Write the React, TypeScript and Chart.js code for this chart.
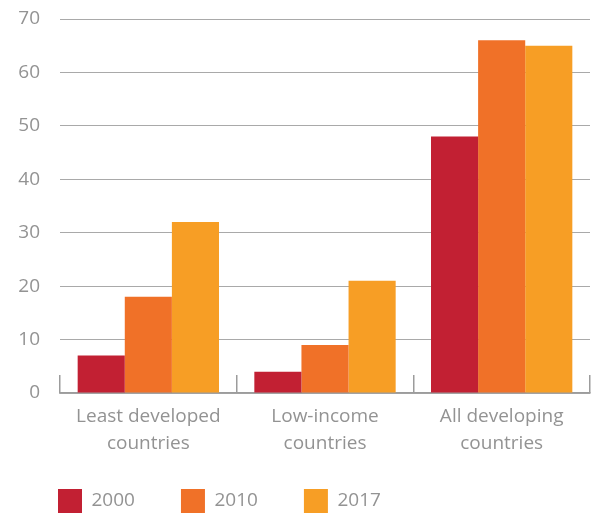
import React, { useEffect, useRef } from "react";
import { Chart, registerables } from "chart.js";

Chart.register(...registerables);

const categories: string[][] = [
  ["Least developed", "countries"],
  ["Low-income", "countries"],
  ["All developing", "countries"],
];
const seriesLabels = ["2000", "2010", "2017"];
const values2000 = [7, 4, 48];
const values2010 = [18, 9, 66];
const values2017 = [32, 21, 65];
const seriesColors = ["#C22033", "#F07128", "#F79E25"];
const yMin = 0;
const yMax = 70;
const yStep = 10;

const TEXT = "#939393";
const GRID = "#a9a9a9";
const FONT = "'Open Sans', sans-serif";

export default function App() {
  const ref = useRef<HTMLCanvasElement | null>(null);

  useEffect(() => {
    if (!ref.current) return;
    const data = [values2000, values2010, values2017];
    const chart = new Chart(ref.current, {
      type: "bar",
      data: {
        labels: categories,
        datasets: seriesLabels.map((l, i) => ({
          label: l,
          data: data[i],
          backgroundColor: seriesColors[i],
          borderWidth: 0,
          categoryPercentage: 0.8,
          barPercentage: 1,
        })),
      },
      options: {
        responsive: false,
        animation: false,
        layout: { padding: { top: 19, right: 6, left: 12, bottom: 0 } },
        plugins: {
          tooltip: { enabled: false },
          legend: {
            position: "bottom",
            align: "start",
            labels: {
              boxWidth: 24,
              boxHeight: 24,
              padding: 46,
              color: TEXT,
              font: { family: FONT, size: 19 },
            },
          },
        },
        scales: {
          x: {
            border: { display: true, color: "#9c9c9c", width: 1.5 },
            grid: {
              display: true,
              drawOnChartArea: false,
              drawTicks: true,
              tickLength: -18,
              color: "#9c9c9c",
              lineWidth: 1.5,
              offset: true,
            },
            ticks: {
              color: TEXT,
              mirror: true,
              padding: -37,
              font: { family: FONT, size: 19, lineHeight: 1.38 },
              maxRotation: 0,
            },
            afterFit: (s: any) => {
              s.height = 50;
            },
          },
          y: {
            min: yMin,
            max: yMax,
            border: { display: false },
            grid: {
              color: GRID,
              lineWidth: 1,
              drawTicks: true,
              tickLength: 20,
              tickColor: "rgba(0,0,0,0)",
            },
            ticks: {
              stepSize: yStep,
              color: TEXT,
              padding: 0,
              font: { family: FONT, size: 19 },
            },
            afterFit: (s: any) => {
              s.width = 48;
            },
          },
        },
      },
    });
    return () => chart.destroy();
  }, []);

  return (
    <div
      style={{
        position: "fixed",
        left: 0,
        top: 0,
        width: 596,
        height: 515,
        overflow: "hidden",
        background: "#fff",
      }}
    >
      <canvas ref={ref} width={596} height={523} style={{ display: "block" }} />
    </div>
  );
}
